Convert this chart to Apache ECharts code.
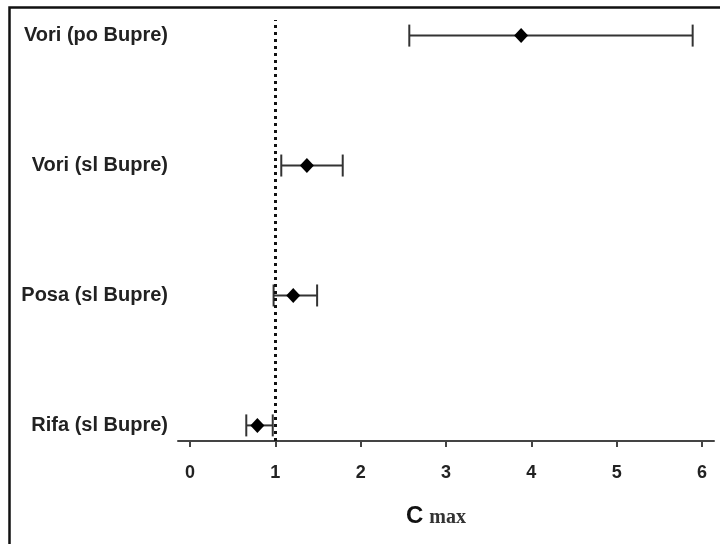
<!DOCTYPE html>
<html>
<head>
<meta charset="utf-8">
<script src="https://cdn.jsdelivr.net/npm/echarts@6/dist/echarts.min.js"></script>
<style>html,body{margin:0;padding:0;background:#fff}#c{width:720px;height:544px}</style>
</head>
<body>
<div id="c"></div>
<script>
var categories = ['Rifa (sl Bupre)', 'Posa (sl Bupre)', 'Vori (sl Bupre)', 'Vori (po Bupre)'];
var pointValues = [0.79, 1.21, 1.37, 3.88];
var lowValues = [0.66, 0.98, 1.07, 2.57];
var highValues = [0.97, 1.49, 1.79, 5.89];
var xTicks = [0, 1, 2, 3, 4, 5, 6];
var refLine = 1;

var chart = echarts.init(document.getElementById('c'));
var barData = categories.map(function (c, i) { return [lowValues[i], highValues[i], i]; });
var pointData = categories.map(function (c, i) { return [pointValues[i], i]; });

chart.setOption({
  animation: false,
  backgroundColor: '#fff',
  graphic: [{
    type: 'rect', left: 7, top: 5, silent: true,
    shape: { width: 760, height: 600 },
    style: { fill: 'none', stroke: '#111', lineWidth: 2.5 }
  }],
  grid: { left: 178, right: 6, top: 20, bottom: 103 },
  xAxis: {
    type: 'value', min: -0.14, max: 6.14,
    splitLine: { show: false },
    axisLine: { show: true, onZero: false, lineStyle: { color: '#444', width: 2 } },
    axisTick: { show: true, customValues: xTicks, length: 6, lineStyle: { color: '#444', width: 2 } },
    axisLabel: { customValues: xTicks, margin: 23, fontFamily: 'Liberation Sans, Arial', fontWeight: 'bold', fontSize: 18, color: '#222' },
    name: '{c|C}{m|max}',
    nameLocation: 'middle',
    nameGap: 59,
    nameTextStyle: {
      padding: [0, 20, 0, 0],
      rich: {
        c: { fontFamily: 'Liberation Sans, Arial', fontWeight: 'bold', fontSize: 24, color: '#111', verticalAlign: 'bottom', lineHeight: 28 },
        m: { fontFamily: 'Liberation Serif, Times New Roman', fontWeight: 'bold', fontSize: 20, color: '#333', verticalAlign: 'bottom', lineHeight: 28, padding: [0, 0, 0, 6] }
      }
    }
  },
  yAxis: {
    type: 'value', min: -0.12, max: 3.12,
    splitLine: { show: false },
    axisLine: { show: false },
    axisTick: { show: false },
    axisLabel: {
      customValues: [0, 1, 2, 3], margin: 10,
      fontFamily: 'Liberation Sans, Arial', fontWeight: 'bold', fontSize: 20, color: '#222',
      formatter: function (v) { return categories[Math.round(v)]; }
    }
  },
  series: [{
    type: 'custom',
    data: barData,
    encode: { x: [0, 1], y: 2 },
    renderItem: function (params, api) {
      var lo = api.coord([api.value(0), api.value(2)]);
      var hi = api.coord([api.value(1), api.value(2)]);
      var h = 11;
      var st = { stroke: '#333', lineWidth: 2 };
      return {
        type: 'group',
        children: [
          { type: 'line', shape: { x1: lo[0], y1: lo[1], x2: hi[0], y2: hi[1] }, style: st },
          { type: 'line', shape: { x1: lo[0], y1: lo[1] - h, x2: lo[0], y2: lo[1] + h }, style: st },
          { type: 'line', shape: { x1: hi[0], y1: hi[1] - h, x2: hi[0], y2: hi[1] + h }, style: st }
        ]
      };
    },
    markLine: {
      silent: true, symbol: 'none', label: { show: false },
      lineStyle: { color: '#111', width: 3, type: [3, 4], opacity: 1 },
      data: [{ xAxis: refLine }]
    }
  }, {
    type: 'scatter',
    data: pointData,
    symbol: 'diamond',
    symbolSize: [14, 15],
    itemStyle: { color: '#000', opacity: 1 },
    z: 5
  }]
});
</script>
</body>
</html>
